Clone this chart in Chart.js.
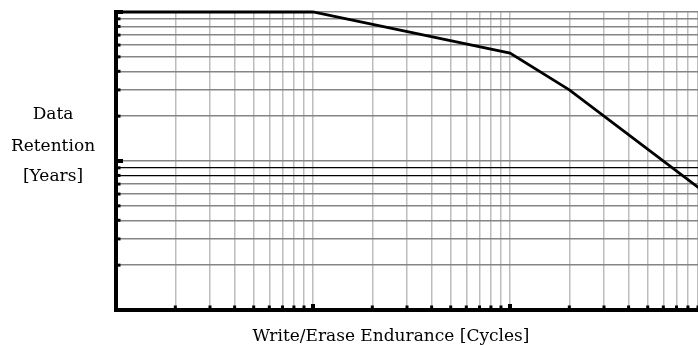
<!DOCTYPE html>
<html>
<head>
<meta charset="utf-8">
<script src="https://cdn.jsdelivr.net/npm/chart.js@4.4.1/dist/chart.umd.min.js"></script>
<style>
  html, body { margin: 0; padding: 0; background: #fff; }
  #wrap { width: 698px; height: 345px; }
</style>
</head>
<body>
<div id="wrap"><canvas id="retencion"></canvas></div>
<script>
// curva de retencion vs ciclos de escritura/borrado
const ciclos = [1e4, 1e5, 1e6, 2e6, 1e7]
const retencionAnios = [100, 100, 53, 30, 6]

// rejilla logaritmica: decadas x multiplos
const decadasX = [1e4, 1e5, 1e6]
const decadasY = [1, 10]
const multiplos = [1, 2, 3, 4, 5, 6, 7, 8, 9]
const xMin = 1e4, xMax = 9e6
const yMin = 1, yMax = 100
const lineasNegrasY = [8, 9]

const tituloY = ['Data', 'Retention', '[Years]']
const tituloX = 'Write/Erase Endurance [Cycles]'

const ticksX = decadasX.flatMap(d => multiplos.map(m => d * m)).filter(v => v <= xMax)
const ticksY = decadasY.flatMap(d => multiplos.map(m => d * m)).concat([yMax])

function esDecada(v) {
    const e = Math.log10(v)
    return Math.abs(e - Math.round(e)) < 1e-9
}

const marcasYTextos = {
    id: 'marcasYTextos',
    afterDraw(chart) {
        const ctx = chart.ctx
        const { left, bottom } = chart.chartArea
        const x = chart.scales.x
        const y = chart.scales.y
        ctx.save()
        ctx.fillStyle = '#000'
        y.ticks.forEach(t => {
            const py = y.getPixelForValue(t.value)
            if (esDecada(t.value)) {
                ctx.fillRect(left, py - 2, 7, 4)
            } else {
                ctx.fillRect(left, py - 1.5, 4.5, 3)
            }
        })
        x.ticks.forEach(t => {
            const px = x.getPixelForValue(t.value)
            if (esDecada(t.value)) {
                ctx.fillRect(px - 2, bottom - 6, 4, 6)
            } else {
                ctx.fillRect(px - 1.5, bottom - 4.5, 3, 4.5)
            }
        })

        ctx.font = '17px "DejaVu Serif"'
        ctx.textAlign = 'center'
        ctx.textBaseline = 'alphabetic'
        const baseY = [119, 151, 181]
        tituloY.forEach((linea, i) => ctx.fillText(linea, 53, baseY[i]))
        ctx.fillText(tituloX, 391, 341)
        ctx.restore()
    }
}

new Chart(document.getElementById('retencion'), {
    type: 'line',
    data: {
        datasets: [{
            data: ciclos.map((c, i) => ({ x: c, y: retencionAnios[i] })),
            borderColor: '#000',
            borderWidth: 2.8,
            pointRadius: 0,
            tension: 0,
            fill: false,
            clip: false
        }]
    },
    options: {
        responsive: true,
        maintainAspectRatio: false,
        animation: false,
        layout: { padding: { left: 116, top: 12, right: 0, bottom: 35 } },
        plugins: {
            legend: { display: false },
            tooltip: { enabled: false }
        },
        scales: {
            x: {
                type: 'logarithmic',
                min: xMin,
                max: xMax,
                afterBuildTicks: scale => { scale.ticks = ticksX.map(v => ({ value: v })) },
                ticks: { display: false, autoSkip: false },
                grid: { color: '#bdbdbd', lineWidth: 1.5, drawTicks: false },
                border: { color: '#000', width: 4 }
            },
            y: {
                type: 'logarithmic',
                min: yMin,
                max: yMax,
                afterBuildTicks: scale => { scale.ticks = ticksY.map(v => ({ value: v })) },
                ticks: { display: false, autoSkip: false },
                grid: {
                    color: c => lineasNegrasY.includes(c.tick.value) ? '#000' : '#858585',
                    lineWidth: c => lineasNegrasY.includes(c.tick.value) ? 1.3 : 1.5,
                    drawTicks: false
                },
                border: { color: '#000', width: 4 }
            }
        }
    },
    plugins: [marcasYTextos]
})
</script>
</body>
</html>
